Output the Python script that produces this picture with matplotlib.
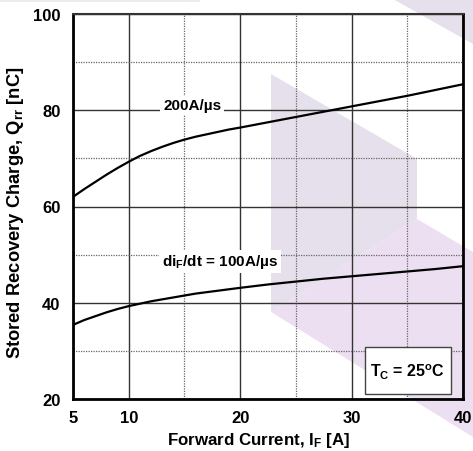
import matplotlib
matplotlib.use("Agg")
import matplotlib.pyplot as plt
from matplotlib.patches import Polygon, Rectangle
from matplotlib.ticker import FixedLocator

plt.rcParams['font.family'] = ['Liberation Sans', 'DejaVu Sans']
plt.rcParams['font.weight'] = 'bold'
plt.rcParams['mathtext.fontset'] = 'custom'
plt.rcParams['mathtext.rm'] = 'Liberation Sans:bold'
plt.rcParams['mathtext.bf'] = 'Liberation Sans:bold'
plt.rcParams['mathtext.it'] = 'Liberation Sans:bold'

# Data
current_a = [5, 6, 7, 8, 9, 10, 11, 12, 13, 14, 15, 16, 17, 18, 19, 20,
             22.5, 25, 27.5, 30, 32.5, 35, 37.5, 40]
qrr_200 = [62.0, 63.6, 65.1, 66.6, 68.0, 69.3, 70.5, 71.5, 72.4, 73.2, 73.9, 74.5,
           75.0, 75.5, 76.0, 76.4, 77.5, 78.6, 79.7, 80.8, 81.9, 83.0, 84.2, 85.4]
qrr_100 = [35.4, 36.4, 37.2, 38.0, 38.7, 39.3, 39.8, 40.3, 40.7, 41.1, 41.5, 41.9,
           42.2, 42.5, 42.8, 43.1, 43.8, 44.4, 45.0, 45.5, 46.0, 46.5, 47.0, 47.6]
x_ticks = [5, 10, 20, 30, 40]
y_ticks = [20, 40, 60, 80, 100]

W, H = 473, 452
fig = plt.figure(figsize=(W / 100, H / 100), dpi=100)

def fp(pts):
    return [(x / W, 1 - y / H) for x, y in pts]

# background watermark shapes
grey = '#e5e0eb'
pink = '#ecdff1'
fig.add_artist(Polygon(fp([(0, 0), (200, 0), (200, 3), (0, 3)]), closed=True,
                       transform=fig.transFigure, facecolor='#ecebf0', edgecolor='none', zorder=-2))
fig.add_artist(Polygon(fp([(393, 0), (473, 0), (473, 45)]), closed=True,
                       transform=fig.transFigure, facecolor=grey, edgecolor='none', zorder=-2))
fig.add_artist(Polygon(fp([(417, 220), (473, 253), (473, 438), (271, 313)]), closed=True,
                       transform=fig.transFigure, facecolor=pink, edgecolor='none', zorder=-2))
fig.add_artist(Polygon(fp([(271, 75), (417, 160), (417, 220), (271, 313)]), closed=True,
                       transform=fig.transFigure, facecolor=grey, edgecolor='none', zorder=-2))

ax = fig.add_axes([73 / W, 1 - 400 / H, 390 / W, 385 / H])
ax.set_facecolor('none')

ax.plot(current_a, qrr_200, color='black', lw=1.6, zorder=3)
ax.plot(current_a, qrr_100, color='black', lw=1.6, zorder=3)

ax.set_xlim(5, 40)
ax.set_ylim(20, 100)
ax.xaxis.set_major_locator(FixedLocator(x_ticks))
ax.yaxis.set_major_locator(FixedLocator(y_ticks))
ax.xaxis.set_minor_locator(FixedLocator([15, 25, 35]))
ax.yaxis.set_minor_locator(FixedLocator([30, 50, 70, 90]))
ax.grid(which='major', color='#333333', lw=1.0, ls='-')
ax.grid(which='minor', color='#666666', lw=0.9, ls=(0, (1, 1)))
ax.set_axisbelow(True)
ax.tick_params(which='both', length=0)
ax.tick_params(axis='y', pad=9, labelsize=12)
ax.tick_params(axis='x', pad=8, labelsize=12)
for lab in ax.get_xticklabels() + ax.get_yticklabels():
    lab.set_fontweight('bold')

for side in ['left', 'bottom', 'right']:
    ax.spines[side].set_linewidth(2.0)
    ax.spines[side].set_color('black')
ax.spines['top'].set_linewidth(1.5)
ax.spines['top'].set_color('#333333')

ax.set_xlabel('Forward Current, I$_{\\mathrm{F}}$ [A]', fontsize=12.2, fontweight='bold')
ax.xaxis.set_label_coords(0.477, -0.08)
ax.set_ylabel('Stored Recovery Charge, Q$_{\\mathrm{rr}}$ [nC]', fontsize=13.2, fontweight='bold')
ax.yaxis.set_label_coords(-0.12, 0.487)

ax.text(15.7, 81.0, '200A/µs', fontsize=11, fontweight='bold', ha='center', va='center',
        bbox=dict(facecolor='white', edgecolor='none', pad=2), zorder=4)
ax.text(18.2, 48.6, 'di$_{\\mathrm{F}}$/dt = 100A/µs', fontsize=11, fontweight='bold', ha='center', va='center',
        bbox=dict(facecolor='white', edgecolor='none', pad=2), zorder=4)
ax.add_patch(Rectangle((31.2, 21.05), 7.72, 9.75, facecolor='white', edgecolor='#444444',
                       lw=1.0, zorder=4))
ax.text(35.06, 25.8, 'T$_{\\mathrm{C}}$ = 25$^{\\mathrm{o}}$C', fontsize=11.5, fontweight='bold',
        ha='center', va='center', zorder=5)

fig.savefig('out.png', dpi=100)
